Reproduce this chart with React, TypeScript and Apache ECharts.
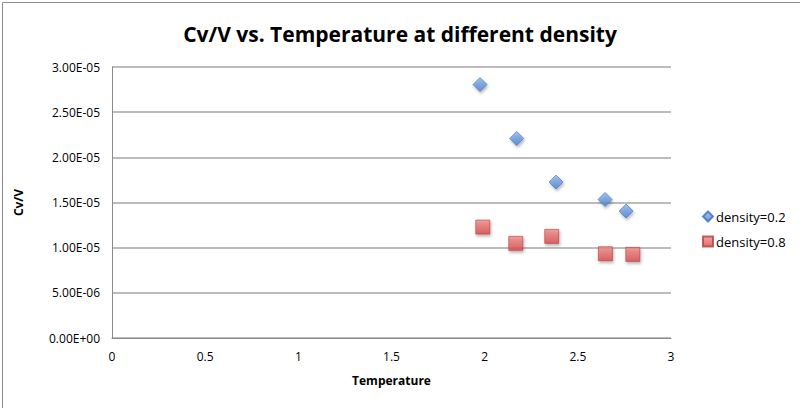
import React, { useEffect, useRef } from "react";
import * as echarts from "echarts";

const seriesNames = ["density=0.2", "density=0.8"];
const tempLow: number[] = [1.975, 2.172, 2.383, 2.646, 2.759];
const cvLow: number[] = [2.806e-5, 2.209e-5, 1.726e-5, 1.534e-5, 1.405e-5];
const tempHigh: number[] = [1.99, 2.167, 2.36, 2.648, 2.795];
const cvHigh: number[] = [1.228e-5, 1.048e-5, 1.125e-5, 0.933e-5, 0.926e-5];

const sci = (v: number) => {
  if (v === 0) return "0.00E+00";
  const [m, e] = v.toExponential(2).split("e");
  const n = parseInt(e, 10);
  const sign = n < 0 ? "-" : "+";
  const d = String(Math.abs(n)).padStart(2, "0");
  return `${m}E${sign}${d}`;
};

export default function App() {
  const ref = useRef<HTMLDivElement>(null);
  useEffect(() => {
    document.body.style.margin = "0";
    const chart = echarts.init(ref.current!, null, { renderer: "svg" });
    const font = "'Open Sans', 'Liberation Sans', sans-serif";
    chart.setOption({
      animation: false,
      backgroundColor: "#fff",
      title: {
        text: "Cv/V vs. Temperature at different density",
        left: "center",
        top: 18,
        textStyle: { fontFamily: font, fontSize: 21, fontWeight: "bold", color: "#000" },
      },
      legend: {
        orient: "vertical",
        left: 697,
        top: 205,
        itemGap: 12,
        itemWidth: 10,
        itemHeight: 10,
        textStyle: { fontFamily: font, fontSize: 13, color: "#000", padding: [0, 0, 0, -2] },
        data: [
          { name: seriesNames[0], icon: "diamond" },
          { name: seriesNames[1], icon: "rect" },
        ],
      },
      grid: { left: 112, right: 129, top: 67, bottom: 70 },
      xAxis: {
        type: "value",
        min: 0,
        max: 3,
        interval: 0.5,
        name: "Temperature",
        nameLocation: "middle",
        nameGap: 36,
        nameTextStyle: { fontFamily: font, fontSize: 12, fontWeight: "bold", color: "#000" },
        axisLine: { lineStyle: { color: "#8c8c8c", width: 1 } },
        axisTick: { show: false },
        splitLine: { show: false },
        axisLabel: { fontFamily: font, fontSize: 12, color: "#000", margin: 12 },
      },
      yAxis: {
        type: "value",
        min: 0,
        max: 3e-5,
        interval: 5e-6,
        name: "Cv/V",
        nameLocation: "middle",
        nameGap: 78,
        nameRotate: 90,
        nameTextStyle: {
          fontFamily: font,
          fontSize: 12,
          fontWeight: "bold",
          color: "#000",
          padding: [0, 0, 10, 0],
        },
        axisLine: { show: true, lineStyle: { color: "#8c8c8c", width: 1 } },
        axisTick: { show: false },
        splitLine: { lineStyle: { color: "#a6a6a6", width: 1.5 } },
        axisLabel: { fontFamily: font, fontSize: 12, color: "#000", margin: 12, formatter: sci },
      },
      series: [
        {
          name: seriesNames[0],
          type: "scatter",
          symbol: "diamond",
          symbolSize: 14,
          data: tempLow.map((t, i) => [t, cvLow[i]]),
          itemStyle: {
            color: new echarts.graphic.LinearGradient(0, 0, 0, 1, [
              { offset: 0, color: "#8db4ec" },
              { offset: 1, color: "#4a7fd0" },
            ]),
            borderColor: "#3f6fb8",
            borderWidth: 0.8,
            shadowBlur: 3,
            shadowOffsetX: 1,
            shadowOffsetY: 2,
            shadowColor: "rgba(0,0,0,0.35)",
          },
        },
        {
          name: seriesNames[1],
          type: "scatter",
          symbol: "rect",
          symbolSize: 14,
          data: tempHigh.map((t, i) => [t, cvHigh[i]]),
          itemStyle: {
            color: new echarts.graphic.LinearGradient(0, 0, 0, 1, [
              { offset: 0, color: "#f08a8a" },
              { offset: 1, color: "#d94848" },
            ]),
            borderColor: "#b83c3c",
            borderWidth: 0.8,
            shadowBlur: 3,
            shadowOffsetX: 1,
            shadowOffsetY: 2,
            shadowColor: "rgba(0,0,0,0.35)",
          },
        },
      ],
      graphic: [
        {
          type: "rect",
          left: 0,
          top: 0,
          shape: { width: 799, height: 407 },
          style: { fill: "none", stroke: "#8c8c8c", lineWidth: 1 },
          silent: true,
        },
      ],
    });
    return () => chart.dispose();
  }, []);
  return <div ref={ref} style={{ width: 800, height: 408 }} />;
}
